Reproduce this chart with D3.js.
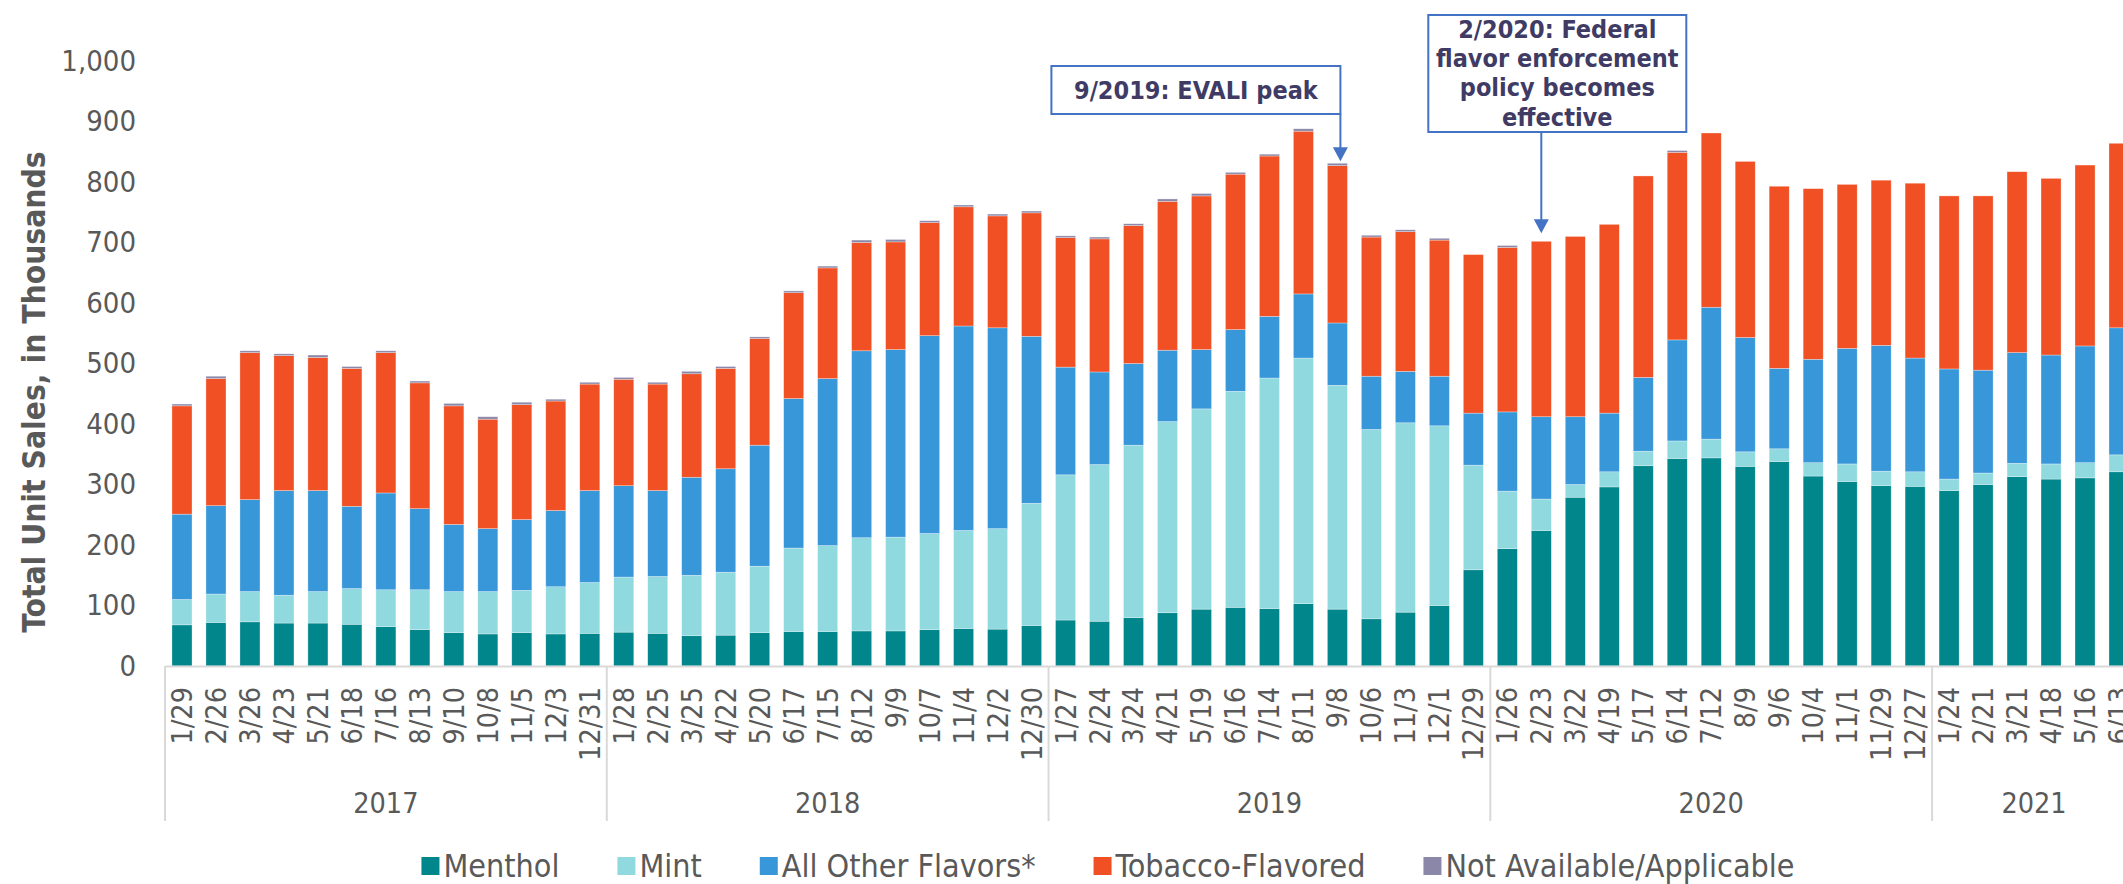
<!DOCTYPE html>
<html>
<head>
<meta charset="utf-8">
<script src="https://cdn.jsdelivr.net/npm/d3@7"></script>
<style>
  html, body { margin: 0; padding: 0; background: #fff; }
  svg { display: block; }
  text { font-family: "DejaVu Sans Condensed", "DejaVu Sans", sans-serif; font-stretch: condensed; fill: #595959; }
</style>
</head>
<body>
<svg id="chart" width="2123" height="884"></svg>
<script>
// week-ending labels, four-week periods
var weeks = [
    "1/29", "2/26", "3/26", "4/23", "5/21", "6/18", "7/16", "8/13", "9/10", "10/8", "11/5", "12/3", "12/31",
    "1/28", "2/25", "3/25", "4/22", "5/20", "6/17", "7/15", "8/12", "9/9", "10/7", "11/4", "12/2", "12/30",
    "1/27", "2/24", "3/24", "4/21", "5/19", "6/16", "7/14", "8/11", "9/8", "10/6", "11/3", "12/1", "12/29",
    "1/26", "2/23", "3/22", "4/19", "5/17", "6/14", "7/12", "8/9", "9/6", "10/4", "11/1", "11/29", "12/27",
    "1/24", "2/21", "3/21", "4/18", "5/16", "6/13"
];
var years = ["2017", "2018", "2019", "2020", "2021"];
var weeksPerYear = [13, 13, 13, 13, 6];

// unit sales, thousands
var menthol = [
    68, 72, 73, 71, 71, 69, 65, 60, 55, 53, 55, 53, 54,
    56, 54, 50, 51, 55, 57, 57, 58, 58, 60, 62, 61, 67,
    76, 74, 80, 88, 94, 97, 95, 103, 94, 78, 89, 100, 159,
    194, 224, 279, 296, 331, 343, 344, 330, 338, 314, 305, 298, 297,
    290, 300, 313, 309, 311, 321
];
var mint = [
    42, 47, 50, 46, 52, 59, 61, 66, 68, 70, 70, 78, 84,
    91, 94, 100, 104, 110, 138, 142, 154, 155, 159, 162, 166, 202,
    240, 259, 285, 316, 331, 357, 381, 406, 370, 313, 313, 297, 173,
    95, 52, 21, 25, 24, 29, 31, 24, 21, 22, 29, 24, 24,
    19, 19, 22, 25, 25, 28
];
var otherFlavors = [
    141, 146, 152, 173, 167, 136, 160, 134, 111, 104, 117, 126, 152,
    151, 142, 162, 171, 200, 247, 276, 309, 310, 327, 338, 332, 276,
    178, 153, 135, 118, 98, 102, 102, 106, 103, 88, 85, 82, 86,
    131, 136, 112, 97, 122, 167, 218, 189, 133, 171, 191, 208, 188,
    182, 170, 183, 180, 193, 210
];
var tobacco = [
    179, 210, 243, 223, 220, 228, 232, 208, 196, 181, 190, 181, 176,
    176, 176, 171, 166, 176, 175, 183, 179, 178, 187, 197, 185, 204,
    214, 220, 228, 246, 254, 257, 265, 269, 260, 230, 231, 225, 262,
    272, 290, 298, 312, 333, 310, 288, 291, 301, 282, 271, 273, 289,
    286, 288, 299, 292, 299, 305
];
var notAvailable = [
    3, 4, 3, 3, 4, 3, 3, 3, 4, 4, 4, 3, 3,
    3, 3, 4, 3, 3, 3, 3, 4, 4, 3, 3, 3, 3,
    3, 3, 3, 4, 4, 3, 3, 4, 4, 3, 3, 3, 0,
    3, 0, 0, 0, 0, 3, 0, 0, 0, 0, 0, 0, 0,
    0, 0, 0, 0, 0, 0
];
var yTicks = [0, 100, 200, 300, 400, 500, 600, 700, 800, 900, 1000];

var seriesNames = ["Menthol", "Mint", "All Other Flavors*", "Tobacco-Flavored", "Not Available/Applicable"];
var seriesValues = [menthol, mint, otherFlavors, tobacco, notAvailable];
var colors = ["#00868b", "#90d9df", "#3897d9", "#f05024", "#8b87a8"];

var annotations = [
    { index: 34, lines: ["9/2019: EVALI peak"] },
    { index: 40, lines: ["2/2020: Federal", "flavor enforcement", "policy becomes", "effective"] }
];

var svg = d3.select('#chart');

var rows = weeks.map(function (w, i) {
    var r = { i: i };
    seriesNames.forEach(function (n, k) { r[n] = seriesValues[k][i]; });
    return r;
});
var stacked = d3.stack().keys(seriesNames)(rows);

var x = d3.scaleBand()
    .domain(d3.range(weeks.length))
    .range([165, 2136])
    .paddingInner(0.41)
    .paddingOuter(0.205);

var y = d3.scaleLinear()
    .domain([0, 1000])
    .range([666, 61]);

// y axis
var yAxis = svg.append('g')
    .attr('transform', 'translate(165,0)')
    .call(d3.axisLeft(y).tickValues(yTicks).tickFormat(d3.format(',')).tickSize(0).tickPadding(29));
yAxis.select('.domain').remove();
yAxis.selectAll('text')
    .style('font-size', '29px')
    .style('fill', '#595959');

svg.append('text')
    .attr('transform', 'translate(34,392) rotate(-90)')
    .attr('text-anchor', 'middle')
    .attr('dy', '0.35em')
    .style('font-size', '31.5px')
    .style('font-weight', 'bold')
    .text('Total Unit Sales, in Thousands');

// bars
svg.append('g')
    .selectAll('g')
    .data(stacked)
    .enter()
    .append('g')
    .attr('fill', function (d, k) { return colors[k]; })
    .selectAll('rect')
    .data(function (d) { return d; })
    .enter()
    .append('rect')
    .attr('x', function (d) { return x(d.data.i); })
    .attr('width', x.bandwidth())
    .attr('y', function (d) { return y(d[1]); })
    .attr('height', function (d) { return y(d[0]) - y(d[1]); })
    .attr('stroke', '#fff')
    .attr('stroke-width', 0.6)
    .attr('stroke-opacity', 0.5);

// x axis
var xAxis = svg.append('g')
    .attr('transform', 'translate(0,' + y(0) + ')')
    .call(d3.axisBottom(x).tickFormat(function (i) { return weeks[i]; }).tickSize(0).tickSizeOuter(0));
xAxis.select('.domain')
    .attr('stroke', '#d9d9d9')
    .attr('stroke-width', 2);
xAxis.selectAll('.tick text')
    .attr('transform', 'rotate(-90)')
    .attr('text-anchor', 'end')
    .attr('x', -21)
    .attr('y', 0)
    .attr('dy', '0.35em')
    .style('font-size', '28.5px')
    .style('fill', '#595959');

// year groups
var step = x.step();
var start = x.range()[0];
var cum = 0;
var bounds = [start];
weeksPerYear.forEach(function (n) { cum += n; bounds.push(start + cum * step); });

svg.append('g')
    .selectAll('line')
    .data(bounds)
    .enter()
    .append('line')
    .attr('x1', function (d) { return d; })
    .attr('x2', function (d) { return d; })
    .attr('y1', y(0))
    .attr('y2', 821)
    .attr('stroke', '#d9d9d9')
    .attr('stroke-width', 2);

svg.append('g')
    .selectAll('text')
    .data(years)
    .enter()
    .append('text')
    .attr('x', function (d, k) { return (bounds[k] + bounds[k + 1]) / 2; })
    .attr('y', 803)
    .attr('dy', '0.35em')
    .attr('text-anchor', 'middle')
    .style('font-size', '28.5px')
    .text(function (d) { return d; });

// legend
var legend = svg.append('g');
var items = legend.selectAll('g')
    .data(seriesNames)
    .enter()
    .append('g');
items.append('rect')
    .attr('width', 18)
    .attr('height', 18)
    .attr('y', -9)
    .attr('fill', function (d, k) { return colors[k]; });
items.append('text')
    .attr('x', 22)
    .attr('dy', '0.35em')
    .style('font-size', '32px')
    .text(function (d) { return d; });
var widths = [];
items.each(function () { widths.push(d3.select(this).select('text').node().getComputedTextLength() + 22); });
var total = d3.sum(widths) + 58 * (widths.length - 1);
var lx = 1108 - total / 2;
items.attr('transform', function (d, k) {
    var t = 'translate(' + lx + ',866)';
    lx += widths[k] + 58;
    return t;
});

// annotations
var totals = rows.map(function (r) { return d3.sum(seriesNames, function (n) { return r[n]; }); });
var blue = '#4472c4';

function arrowHead(g, cx, tipY) {
    g.append('path')
        .attr('d', 'M' + (cx - 7.5) + ',' + (tipY - 14) + 'L' + (cx + 7.5) + ',' + (tipY - 14) + 'L' + cx + ',' + tipY + 'Z')
        .attr('fill', blue);
}

var a1 = annotations[0];
var ax1 = x(a1.index) + x.bandwidth() / 2 + 3;
var g1 = svg.append('g');
g1.append('rect')
    .attr('x', ax1 - 289).attr('y', 66).attr('width', 289).attr('height', 48)
    .attr('fill', '#fff').attr('stroke', blue).attr('stroke-width', 2);
g1.append('line')
    .attr('x1', ax1).attr('x2', ax1).attr('y1', 114).attr('y2', y(totals[a1.index]) - 14)
    .attr('stroke', blue).attr('stroke-width', 2);
arrowHead(g1, ax1, y(totals[a1.index]) - 2);
g1.append('text')
    .attr('x', ax1 - 144.5).attr('y', 90).attr('dy', '0.35em')
    .attr('text-anchor', 'middle')
    .style('font-size', '25px').style('font-weight', 'bold').style('fill', '#403b65')
    .text(a1.lines[0]);

var a2 = annotations[1];
var ax2 = x(a2.index) + x.bandwidth() / 2;
var g2 = svg.append('g');
g2.append('rect')
    .attr('x', ax2 - 113).attr('y', 15).attr('width', 258).attr('height', 117)
    .attr('fill', '#fff').attr('stroke', blue).attr('stroke-width', 2);
g2.append('line')
    .attr('x1', ax2).attr('x2', ax2).attr('y1', 132).attr('y2', y(totals[a2.index]) - 20)
    .attr('stroke', blue).attr('stroke-width', 2);
arrowHead(g2, ax2, y(totals[a2.index]) - 8);
g2.selectAll('text.l')
    .data(a2.lines)
    .enter()
    .append('text')
    .attr('x', ax2 + 16).attr('y', function (d, k) { return 29 + k * 29.3; }).attr('dy', '0.35em')
    .attr('text-anchor', 'middle')
    .style('font-size', '25px').style('font-weight', 'bold').style('fill', '#403b65')
    .text(function (d) { return d; });
</script>
</body>
</html>
